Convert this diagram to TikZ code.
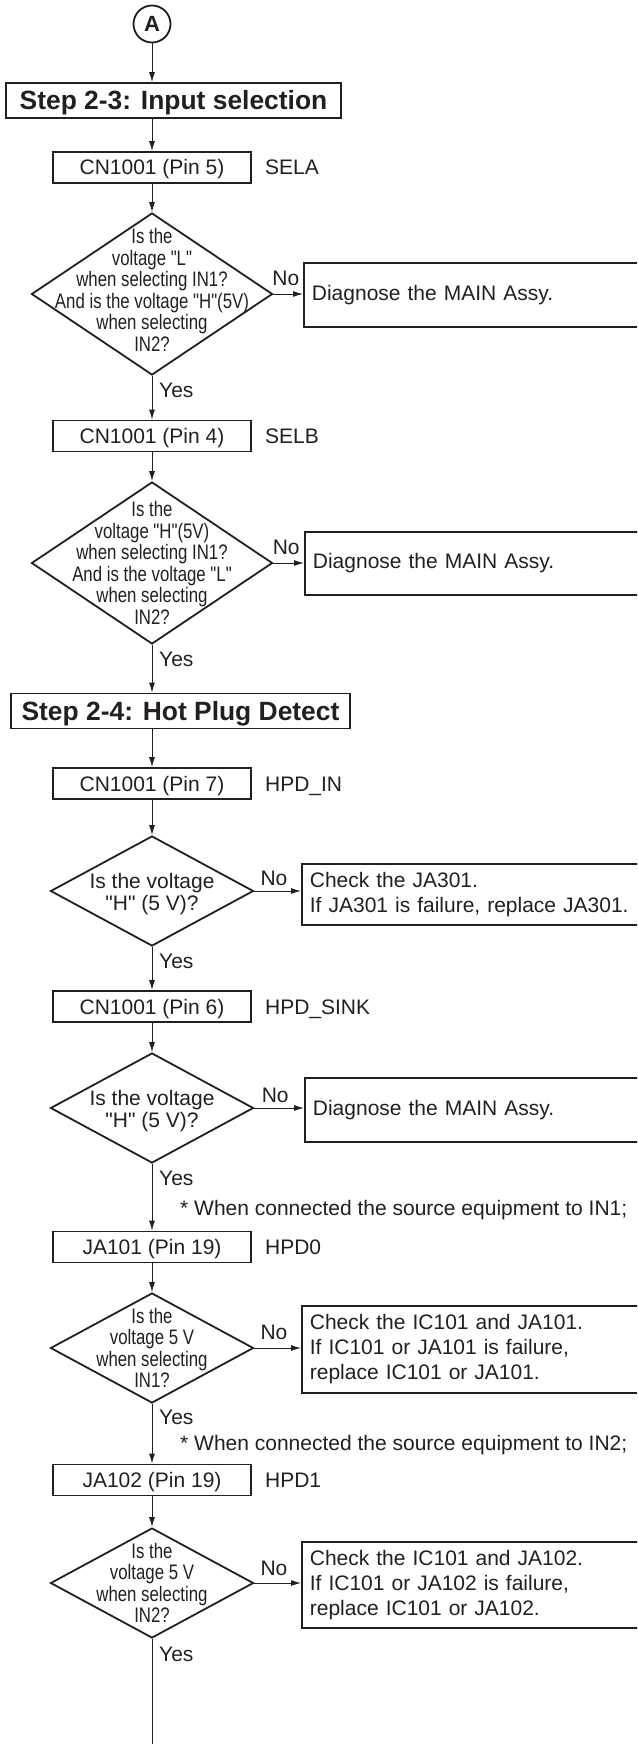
\documentclass[tikz,border=0pt]{standalone}
\usepackage{fontspec}
\newfontfamily\helv{Liberation Sans}
\newfontfamily\helvnarrow{Liberation Sans}[FakeStretch=0.8]
\usetikzlibrary{positioning,arrows.meta,shapes.geometric}
\definecolor{ink}{HTML}{231F20}

\begin{document}
\begin{tikzpicture}[x=1pt,y=-1pt]
\tikzset{
  every node/.style={text=ink,font=\helv\fontsize{21}{25}\selectfont},
  flow/.style={draw=ink,line width=1pt,-{Latex[length=10pt,width=6pt]}},
  rule/.style={draw=ink,line width=1pt},
  conn/.style={circle,draw=ink,line width=1.8pt,minimum size=37pt,inner sep=0pt,font=\helv\bfseries\fontsize{22}{22}\selectfont},
  stepbox/.style={draw=ink,line width=1.8pt,minimum height=35pt,inner sep=0pt,text height=19pt,text depth=0pt,font=\helv\bfseries\fontsize{26.4}{30}\selectfont},
  pinbox/.style={draw=ink,line width=1.8pt,minimum width=198pt,minimum height=31pt,inner sep=0pt,text height=15pt,text depth=0pt},
  bigq/.style={diamond,draw=ink,line width=1.8pt,inner sep=0pt,minimum width=241pt,minimum height=162pt},
  smallq/.style={diamond,draw=ink,line width=1.8pt,inner sep=0pt,minimum width=203pt,minimum height=110pt},
  qtext/.style={align=center,inner sep=0pt,font=\helvnarrow\fontsize{21}{21.5}\selectfont},
  qtextwide/.style={align=center,inner sep=0pt,font=\helv\fontsize{21}{22}\selectfont},
  fixbox/.style={draw=ink,line width=1.8pt,anchor=west,align=left,text width=330pt,inner xsep=8pt,inner ysep=0pt},
  tag/.style={inner sep=0pt,text height=15pt,text depth=0pt},
}
\useasboundingbox (0,0) rectangle (637,1744);
\clip (0,0) rectangle (637,1744);

\node[conn] (A) at (152,24) {A};
\node[stepbox,minimum width=335pt] (s23) at (173.5,100.5) {Step 2-3: Input selection};
\node[pinbox] (p5) at (152,167.5) {CN1001 (Pin 5)};
\node[tag,right=13pt of p5] (sela) {SELA};
\node[bigq] (q1) at (152,294) {};
\node[qtext] at ([yshift=4pt]q1.center) {Is the\\voltage "L"\\when selecting IN1?\\And is the voltage "H"(5V)\\when selecting\\IN2?};
\node[fixbox,minimum height=64pt] (f1) at (303,295) {Diagnose the MAIN Assy.};
\node[tag,below right=6.5pt and 7pt of q1.south] (y1) {Yes};
\node[pinbox] (p4) at (152,436) {CN1001 (Pin 4)};
\node[tag,right=13pt of p4] (selb) {SELB};
\node[bigq] (q2) at (152,563) {};
\node[qtext] at (q2) {Is the\\voltage "H"(5V)\\when selecting IN1?\\And is the voltage "L"\\when selecting\\IN2?};
\node[fixbox,minimum height=63pt] (f2) at (304,563.5) {Diagnose the MAIN Assy.};
\node[tag,below right=6.5pt and 7pt of q2.south] (y2) {Yes};

\node[stepbox,minimum width=339pt] (s24) at (180.5,711) {Step 2-4: Hot Plug Detect};
\node[pinbox] (p7) at (152,783.5) {CN1001 (Pin 7)};
\node[tag,right=13pt of p7] (hpdin) {HPD\_IN};
\node[smallq] (q3) at (152,891) {};
\node[qtextwide] at ([yshift=-3pt]q3.center) {Is the voltage\\"H" (5 V)?};
\node[fixbox,minimum height=61pt] (f3) at (301,894.5) {Check the JA301.\\If JA301 is failure, replace JA301.};
\node[tag,below right=6.5pt and 7pt of q3.south] (y3) {Yes};
\node[pinbox] (p6) at (152,1006.5) {CN1001 (Pin 6)};
\node[tag,right=13pt of p6] (hpdsink) {HPD\_SINK};
\node[smallq] (q4) at (152,1108) {};
\node[qtextwide] at ([yshift=-3pt]q4.center) {Is the voltage\\"H" (5 V)?};
\node[fixbox,minimum height=64pt] (f4) at (304,1110) {Diagnose the MAIN Assy.};
\node[tag,below right=6.5pt and 7pt of q4.south] (y4) {Yes};
\node[tag,anchor=west] (n1) at (180,1208) {* When connected the source equipment to IN1;};
\node[pinbox] (j1) at (152,1247) {JA101 (Pin 19)};
\node[tag,right=13pt of j1] (hpd0) {HPD0};
\node[smallq] (q5) at (152,1348) {};
\node[qtext] at (q5) {Is the\\voltage 5 V\\when selecting\\IN1?};
\node[fixbox,minimum height=87pt] (f5) at (301,1349.5) {Check the IC101 and JA101.\\If IC101 or JA101 is failure,\\replace IC101 or JA101.};
\node[tag,below right=5.5pt and 7pt of q5.south] (y5) {Yes};
\node[tag,anchor=west] (n2) at (180,1443) {* When connected the source equipment to IN2;};
\node[pinbox] (j2) at (152,1480) {JA102 (Pin 19)};
\node[tag,right=13pt of j2] (hpd1) {HPD1};
\node[smallq] (q6) at (152,1583) {};
\node[qtext] at (q6) {Is the\\voltage 5 V\\when selecting\\IN2?};
\node[fixbox,minimum height=86pt] (f6) at (301,1585) {Check the IC101 and JA102.\\If IC101 or JA102 is failure,\\replace IC101 or JA102.};
\node[tag,below right=7.5pt and 7pt of q6.south] (y6) {Yes};
\coordinate (bottom) at (152,1750);

\draw[flow] (A) -- (A |- s23.north);
\draw[flow] (s23.south -| A) -- (p5);
\draw[flow] (p5) -- (q1);
\draw[flow] (q1) -- node[tag,above=8.5pt,pos=0.42] {No} (q1 -| f1.west);
\draw[flow] (q1) -- (p4);
\draw[flow] (p4) -- (q2);
\draw[flow] (q2) -- node[tag,above=8.5pt,pos=0.42] {No} (q2 -| f2.west);
\draw[flow] (q2) -- (q2 |- s24.north);
\draw[flow] (s24.south -| q2) -- (p7);
\draw[flow] (p7) -- (q3);
\draw[flow] (q3) -- node[tag,above=5.5pt,pos=0.42] {No} (q3 -| f3.west);
\draw[flow] (q3) -- (p6);
\draw[flow] (p6) -- (q4);
\draw[flow] (q4) -- node[tag,above=5.5pt,pos=0.42] {No} (q4 -| f4.west);
\draw[flow] (q4) -- (j1);
\draw[flow] (j1) -- (q5);
\draw[flow] (q5) -- node[tag,above=8.5pt,pos=0.42] {No} (q5 -| f5.west);
\draw[flow] (q5) -- (j2);
\draw[flow] (j2) -- (q6);
\draw[flow] (q6) -- node[tag,above=7.5pt,pos=0.42] {No} (q6 -| f6.west);
\draw[rule] (q6) -- (bottom);
\end{tikzpicture}
\end{document}
